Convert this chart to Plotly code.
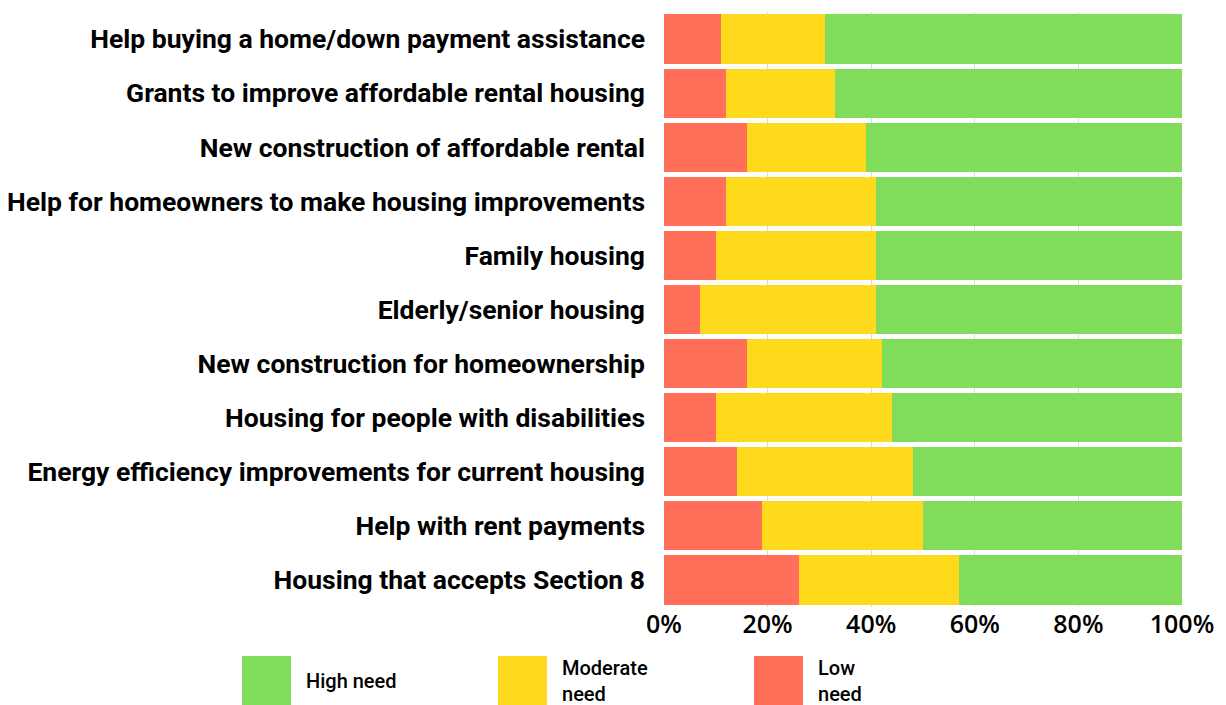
import plotly.graph_objects as go

# Survey categories, top to bottom as shown
categories = [
    "Help buying a home/down payment assistance",
    "Grants to improve affordable rental housing",
    "New construction of affordable rental",
    "Help for homeowners to make housing improvements",
    "Family housing",
    "Elderly/senior housing",
    "New construction for homeownership",
    "Housing for people with disabilities",
    "Energy efficiency improvements for current housing",
    "Help with rent payments",
    "Housing that accepts Section 8",
]

# share of responses (%)
low_need = [11, 12, 16, 12, 10, 7, 16, 10, 14, 19, 26]
moderate_need = [20, 21, 23, 29, 31, 34, 26, 34, 34, 31, 31]
high_need = [69, 67, 61, 59, 59, 59, 58, 56, 52, 50, 43]

series_names = ["High need", "Moderate<br>need", "Low<br>need"]
tick_vals = [0, 20, 40, 60, 80, 100]
tick_text = ["0%", "20%", "40%", "60%", "80%", "100%"]

COLORS = {
    "low": "#FF6F59",
    "moderate": "#FFD91C",
    "high": "#80DC5A",
    "grid": "#DCDCDC",
}

# page body adds an 8px offset, so the figure is laid out in shifted coords
OFF = 8
PLOT_L, PLOT_R, PLOT_T, PLOT_B = 664 - OFF, 1182 - OFF, 12 - OFF, 607 - OFF
W, H = 1226, 705

fig = go.Figure()
for vals, key in [(low_need, "low"), (moderate_need, "moderate"), (high_need, "high")]:
    fig.add_trace(go.Bar(
        y=categories, x=vals, orientation="h",
        marker=dict(color=COLORS[key], line=dict(width=0)),
        hoverinfo="x+y", showlegend=False,
    ))

fig.update_layout(
    barmode="stack", bargap=0.09,
    width=W, height=H,
    margin=dict(l=PLOT_L, r=W - PLOT_R, t=PLOT_T, b=H - PLOT_B),
    paper_bgcolor="white", plot_bgcolor="white",
    font=dict(family="Roboto, sans-serif", color="black"),
)
fig.update_yaxes(
    autorange="reversed", ticks="", ticklabelstandoff=18, automargin=False,
    tickfont=dict(family="Roboto", size=26.5, weight="bold", color="black"),
    showgrid=False, showline=False,
)
fig.update_xaxes(
    range=[0, 100], tickvals=tick_vals, ticktext=tick_text, automargin=False,
    tickfont=dict(family="Open Sans", size=25, weight=600, color="black"),
    showgrid=True, gridcolor=COLORS["grid"], gridwidth=1,
    zeroline=False, showline=False, ticks="",
)

# custom legend below the plot: boxes + labels (paper coords relative to plot area)
plot_w, plot_h = float(PLOT_R - PLOT_L), float(PLOT_B - PLOT_T)
legend_colors = [COLORS["high"], COLORS["moderate"], COLORS["low"]]
box_left_px = [242, 498, 754]
for name, color, bx in zip(series_names, legend_colors, box_left_px):
    bx -= OFF
    fig.add_shape(
        type="rect", xref="paper", yref="paper",
        x0=(bx - PLOT_L) / plot_w, x1=(bx + 49 - PLOT_L) / plot_w,
        y0=-(656 - OFF - PLOT_B) / plot_h, y1=-(715 - OFF - PLOT_B) / plot_h,
        fillcolor=color, line=dict(width=0),
    )
    fig.add_annotation(
        xref="paper", yref="paper", x=(bx + 62 - PLOT_L) / plot_w,
        y=-(681 - OFF - PLOT_B) / plot_h, text=name, showarrow=False,
        xanchor="left", yanchor="middle", align="left",
        font=dict(family="Roboto", size=20, weight=500, color="black"),
    )

fig.write_html("out.html")
